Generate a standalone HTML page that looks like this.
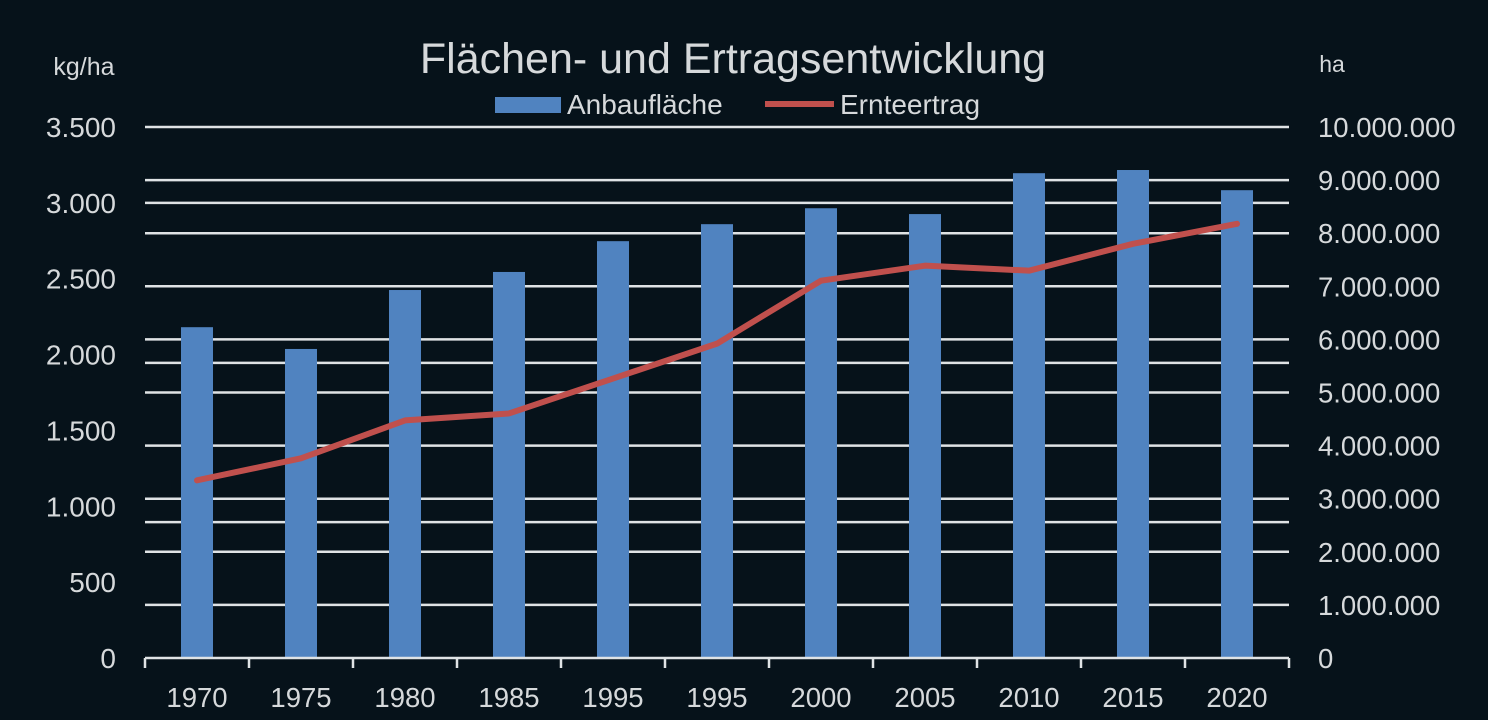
<!DOCTYPE html>
<html><head><meta charset="utf-8"><style>
html,body{margin:0;padding:0;background:#06121a;}
svg{display:block;font-family:"Liberation Sans",sans-serif;}
</style></head><body>
<svg id="chart" width="1488" height="720">
<rect x="0" y="0" width="1488" height="720" fill="#06121a"/>
<text x="733" y="73" text-anchor="middle" font-size="43" fill="#d6d9db">Flächen- und Ertragsentwicklung</text>
<text x="84" y="75" text-anchor="middle" font-size="25" fill="#d6d9db">kg/ha</text>
<text x="1332" y="72" text-anchor="middle" font-size="23" fill="#d6d9db">ha</text>
<g>
<rect x="495" y="97" width="66" height="16" fill="#5083c0"/>
<text x="567" y="114" font-size="28" fill="#d6d9db">Anbaufläche</text>
<line x1="765" y1="104" x2="834" y2="104" stroke="#c0504d" stroke-width="6"/>
<text x="840" y="114" font-size="28" fill="#d6d9db">Ernteertrag</text>
</g>
<g id="grid"></g><g id="bars"></g><g id="line"></g><g id="axes"></g>
</svg>
<script>
const categories=["1970","1975","1980","1985","1995","1995","2000","2005","2010","2015","2020"];
const areaValues=[6230000,5820000,6930000,7270000,7850000,8170000,8470000,8360000,9130000,9190000,8810000];
const yieldValues=[1171,1316,1566,1612,1842,2072,2487,2586,2553,2730,2862];
const leftTicks=[0,500,1000,1500,2000,2500,3000,3500];
const leftTickLabels=["0","500","1.000","1.500","2.000","2.500","3.000","3.500"];
const leftExtraGridlines=[3000,1945,896];
const rightTicks=[0,1000000,2000000,3000000,4000000,5000000,6000000,7000000,8000000,9000000,10000000];
const rightTickLabels=["0","1.000.000","2.000.000","3.000.000","4.000.000","5.000.000","6.000.000","7.000.000","8.000.000","9.000.000","10.000.000"];
const NS="http://www.w3.org/2000/svg";
const X0=145,X1=1289,Y0=658,YT=127;
const band=(X1-X0)/categories.length;
const xC=i=>X0+band*(i+0.5);
const yL=v=>Y0-(v/3500)*(Y0-YT);
const yR=v=>Y0-(v/10000000)*(Y0-YT);
function mk(tag,attrs,parent){const e=document.createElementNS(NS,tag);for(const k in attrs)e.setAttribute(k,attrs[k]);parent.appendChild(e);return e;}
const grid=document.getElementById('grid'),bars=document.getElementById('bars'),line=document.getElementById('line'),axes=document.getElementById('axes');
leftExtraGridlines.forEach(t=>{
 const g=mk('line',{x1:X0,x2:X1,y1:yL(t),y2:yL(t),stroke:'#dfe3e5','stroke-width':2.5},grid);
 
 
});
leftTicks.forEach((t,i)=>{
 const tx=mk('text',{x:116,y:yL(t)+10,'text-anchor':'end','font-size':28,fill:'#d6d9db'},axes);tx.textContent=leftTickLabels[i];
 
 
});
rightTicks.forEach((t,i)=>{
 if(t>0){const g=mk('line',{x1:X0,x2:X1,y1:yR(t),y2:yR(t),stroke:'#dfe3e5','stroke-width':2.5},grid);
 
 }
 const tx=mk('text',{x:1318,y:yR(t)+10,'font-size':27.5,fill:'#d6d9db'},axes);tx.textContent=rightTickLabels[i];
 
 
});
areaValues.forEach((v,i)=>{
 const r=mk('rect',{x:xC(i)-16,y:yR(v),width:32,height:Y0-yR(v),fill:'#5083c0'},bars);
 
 
});
const pts=yieldValues.map((v,i)=>xC(i)+','+yL(v)).join(' ');
const pl=mk('polyline',{points:pts,fill:'none',stroke:'#c0504d','stroke-width':6,'stroke-linejoin':'round','stroke-linecap':'round'},line);


const ax=mk('line',{x1:X0,x2:X1,y1:Y0,y2:Y0,stroke:'#dfe3e5','stroke-width':2.5},axes);


for(let i=0;i<=categories.length;i++){
 const tk=mk('line',{x1:X0+band*i,x2:X0+band*i,y1:Y0,y2:Y0+10,stroke:'#dfe3e5','stroke-width':2.5},axes);
 
 
}
categories.forEach((c,i)=>{
 const tx=mk('text',{x:xC(i),y:707,'text-anchor':'middle','font-size':27.5,fill:'#d6d9db'},axes);tx.textContent=c;
 
 
});
</script>
</body></html>
